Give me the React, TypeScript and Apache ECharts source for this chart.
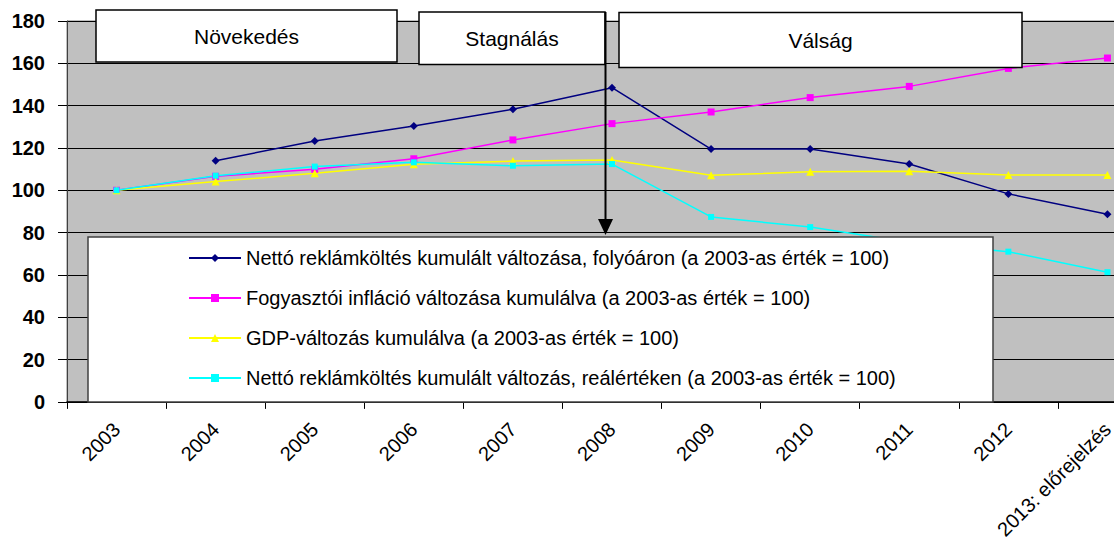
import React, { useEffect, useRef } from "react";
import * as echarts from "echarts";

const categories = [
  "2003", "2004", "2005", "2006", "2007", "2008",
  "2009", "2010", "2011", "2012", "2013: előrejelzés",
];
const adSpendNominal = [null, 114.0, 123.3, 130.4, 138.3, 148.5, 119.5, 119.5, 112.4, 98.3, 88.7];
const inflation = [100, 106.6, 109.9, 114.9, 123.8, 131.5, 137.0, 143.8, 149.1, 157.6, 162.5];
const gdp = [100, 104.1, 108.0, 112.3, 113.8, 114.3, 107.1, 108.7, 109.0, 107.2, 107.2];
const adSpendReal = [100, 106.9, 111.2, 113.2, 111.6, 112.4, 87.4, 82.6, 75.4, 71.0, 61.3];

const seriesNames = [
  "Nettó reklámköltés kumulált változása, folyóáron (a 2003-as érték = 100)",
  "Fogyasztói infláció változása kumulálva (a 2003-as érték = 100)",
  "GDP-változás kumulálva (a 2003-as érték = 100)",
  "Nettó reklámköltés kumulált változás, reálértéken (a 2003-as érték = 100)",
];
const phaseLabels = ["Növekedés", "Stagnálás", "Válság"];

const FONT = "'Liberation Sans', Arial, sans-serif";

export default function App() {
  const ref = useRef<HTMLDivElement>(null);
  useEffect(() => {
    if (!ref.current) return;
    const chart = echarts.init(ref.current, undefined, { renderer: "svg" });
    const mk = (name: string, data: any[], color: string, symbol: string, size: number) => ({
      name,
      type: "line",
      data,
      color,
      symbol,
      symbolSize: size,
      showSymbol: true,
      connectNulls: false,
      lineStyle: { color, width: 1.5 },
      itemStyle: { color },
      z: 3,
    });
    const box = (x: number, y: number, w: number, h: number, label: string) => ({
      type: "group",
      children: [
        {
          type: "rect",
          shape: { x, y, width: w, height: h },
          style: { fill: "#ffffff", stroke: "#000000", lineWidth: 1.5 },
          z: 6,
        },
        {
          type: "text",
          x: x + w / 2,
          y: y + h / 2,
          style: {
            text: label,
            fill: "#000000",
            font: `21px ${FONT}`,
            align: "center",
            verticalAlign: "middle",
          },
          z: 7,
        },
      ],
    });
    chart.setOption({
      animation: false,
      textStyle: { fontFamily: FONT },
      grid: {
        left: 67,
        top: 21,
        width: 1090,
        height: 381,
        show: true,
        backgroundColor: "#C0C0C0",
        borderColor: "#808080",
        borderWidth: 1,
      },
      xAxis: {
        type: "category",
        data: categories,
        boundaryGap: true,
        axisLine: { show: true, lineStyle: { color: "#000000", width: 1.5 } },
        axisTick: { show: true, length: 7, lineStyle: { color: "#000000" } },
        axisLabel: {
          rotate: 45,
          margin: 24,
          fontSize: 20,
          color: "#000000",
          fontFamily: FONT,
          interval: 0,
        },
        splitLine: { show: false },
      },
      yAxis: {
        type: "value",
        min: 0,
        max: 180,
        interval: 20,
        axisLine: { show: true, lineStyle: { color: "#404040", width: 1 } },
        axisTick: { show: true, inside: false, length: 9, lineStyle: { color: "#000000" } },
        axisLabel: {
          margin: 22,
          fontSize: 20,
          fontWeight: "bold",
          color: "#000000",
          fontFamily: FONT,
        },
        splitLine: { show: true, lineStyle: { color: "#000000", width: 1 } },
      },
      legend: {
        orient: "vertical",
        left: 188,
        top: 248,
        padding: 0,
        itemWidth: 52,
        itemHeight: 10,
        itemGap: 20,
        z: 10,
        textStyle: { fontSize: 20, lineHeight: 20, color: "#000000", fontFamily: FONT },
        data: seriesNames,
      },
      graphic: [
        {
          type: "rect",
          shape: { x: 88, y: 237, width: 905, height: 165 },
          style: { fill: "#ffffff", stroke: "#404040", lineWidth: 1.5 },
          z: 5,
        },
        box(96, 10, 301, 52, phaseLabels[0]),
        box(419, 12, 186, 52.5, phaseLabels[1]),
        box(619, 12.5, 403, 55, phaseLabels[2]),
        {
          type: "line",
          shape: { x1: 605.5, y1: 12, x2: 605.5, y2: 222 },
          style: { stroke: "#000000", lineWidth: 2 },
          z: 8,
        },
        {
          type: "polygon",
          shape: { points: [[598, 219], [613, 219], [605.5, 235]] },
          style: { fill: "#000000" },
          z: 8,
        },
      ],
      series: [
        mk(seriesNames[0], adSpendNominal, "#000080", "diamond", 8),
        mk(seriesNames[1], inflation, "#FF00FF", "rect", 7),
        mk(seriesNames[2], gdp, "#FFFF00", "triangle", 8),
        mk(seriesNames[3], adSpendReal, "#00FFFF", "rect", 6),
      ],
    });
    return () => chart.dispose();
  }, []);
  return (
    <div
      style={{
        position: "fixed",
        left: 0,
        top: 0,
        width: 1114,
        height: 542,
        overflow: "hidden",
        background: "#ffffff",
      }}
    >
      <div ref={ref} style={{ width: 1160, height: 542 }} />
    </div>
  );
}
